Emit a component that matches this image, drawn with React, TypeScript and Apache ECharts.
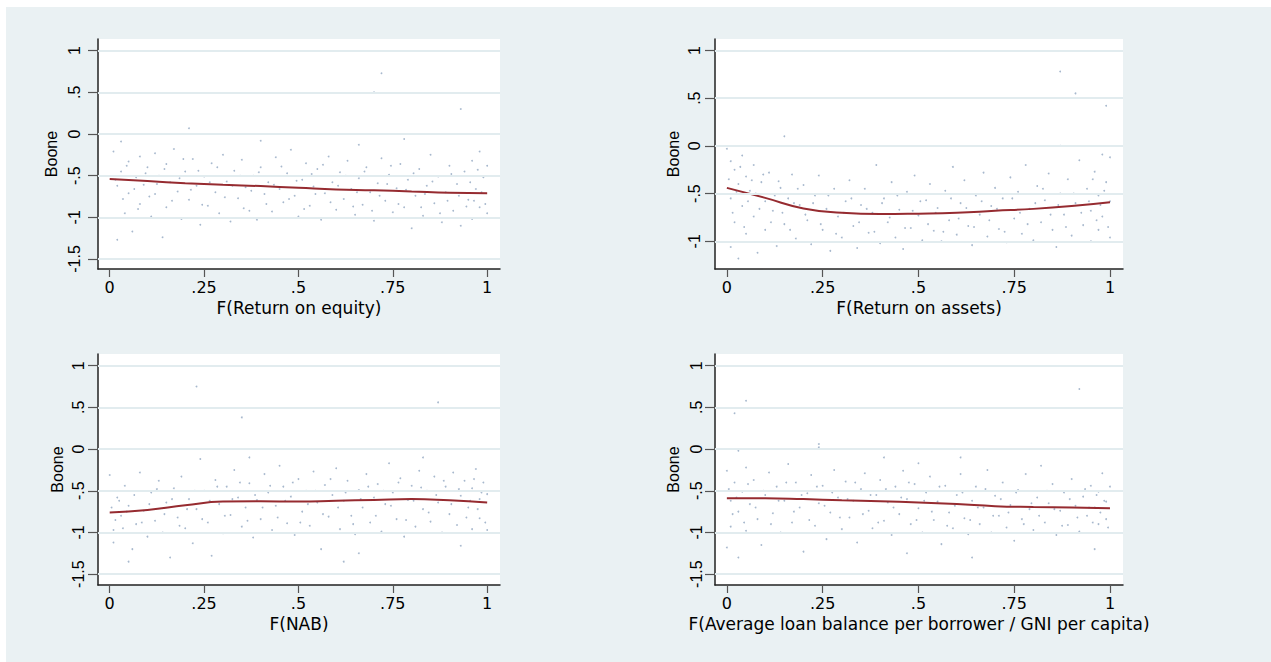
import React, { useEffect, useRef } from "react";
import * as echarts from "echarts";

// ---- data ----
const xTicks = [0, 0.25, 0.5, 0.75, 1];
const yTicksWide = [-1.5, -1, -0.5, 0, 0.5, 1];
const yTicksNarrow = [-1, -0.5, 0, 0.5, 1];

const fitX = [0, 0.1, 0.2, 0.3, 0.4, 0.5, 0.6, 0.7, 0.8, 0.9, 1];
const fitROE = [-0.54, -0.565, -0.59, -0.61, -0.625, -0.645, -0.665, -0.675, -0.69, -0.705, -0.71];
const fitROA = [-0.44, -0.545, -0.655, -0.7, -0.715, -0.71, -0.7, -0.68, -0.66, -0.63, -0.59];
const fitNAB = [-0.76, -0.73, -0.675, -0.63, -0.625, -0.63, -0.62, -0.61, -0.6, -0.615, -0.64];
const fitALB = [-0.59, -0.59, -0.6, -0.615, -0.625, -0.64, -0.66, -0.685, -0.695, -0.7, -0.71];

const ptsROE = `0.01,-0.21;0.02,-0.62;0.02,-1.27;0.03,-0.09;0.03,-0.45;0.04,-0.95;0.05,-0.33;0.05,-0.71;0.06,-1.17;0.07,-0.52;0.08,-0.27;0.08,-0.84;0.09,-0.61;0.10,-0.40;0.11,-0.99;0.12,-0.23;0.12,-0.72;0.13,-0.50;0.14,-1.24;0.15,-0.36;0.15,-0.88;0.16,-0.58;0.17,-0.18;0.18,-0.69;0.19,-1.02;0.20,-0.45;0.21,0.07;0.21,-0.79;0.22,-0.30;0.23,-0.62;0.24,-1.09;0.25,-0.51;0.26,-0.86;0.27,-0.35;0.28,-0.70;0.29,-0.95;0.30,-0.25;0.31,-0.57;0.32,-1.05;0.33,-0.44;0.34,-0.77;0.35,-0.31;0.36,-0.64;0.37,-0.92;0.38,-0.50;0.39,-1.03;0.40,-0.08;0.40,-0.40;0.41,-0.72;0.42,-0.58;0.43,-0.93;0.44,-0.28;0.45,-0.66;0.46,-0.82;0.47,-0.47;0.48,-0.19;0.49,-0.74;0.50,-0.99;0.51,-0.55;0.52,-0.35;0.53,-0.86;0.54,-0.63;0.55,-0.42;0.56,-1.03;0.57,-0.71;0.58,-0.27;0.59,-0.58;0.60,-0.91;0.61,-0.46;0.62,-0.78;0.63,-0.32;0.64,-0.66;0.65,-0.97;0.66,-0.13;0.66,-0.53;0.67,-0.85;0.68,-0.40;0.69,-0.70;0.70,0.50;0.70,-1.04;0.71,-0.59;0.72,0.73;0.72,-0.29;0.73,-0.80;0.74,-0.49;0.75,-0.94;0.76,-0.65;0.77,-0.36;0.78,-0.06;0.78,-0.88;0.79,-0.55;0.80,-1.13;0.81,-0.74;0.82,-0.42;0.83,-0.98;0.84,-0.62;0.85,-0.25;0.86,-0.83;0.87,-0.51;0.88,-1.06;0.89,-0.70;0.90,-0.38;0.91,-0.92;0.92,-0.60;0.93,0.30;0.93,-1.10;0.94,-0.45;0.95,-0.79;0.96,-0.32;0.96,-1.02;0.97,-0.66;0.98,-0.21;0.98,-0.88;0.99,-0.52;1.00,-0.95;1.00,-0.38`;
const ptsROEcore = `0.015,-0.55;0.035,-0.78;0.045,-0.38;0.065,-0.66;0.075,-0.90;0.095,-0.47;0.105,-0.75;0.125,-0.60;0.145,-0.42;0.165,-0.80;0.185,-0.53;0.195,-0.30;0.215,-0.67;0.235,-0.44;0.245,-0.85;0.265,-0.58;0.285,-0.40;0.305,-0.76;0.325,-0.62;0.345,-0.50;0.355,-0.89;0.375,-0.68;0.395,-0.46;0.415,-0.84;0.435,-0.61;0.455,-0.39;0.475,-0.78;0.495,-0.56;0.515,-0.90;0.535,-0.48;0.545,-0.72;0.565,-0.37;0.585,-0.82;0.605,-0.62;0.625,-0.50;0.645,-0.87;0.655,-0.70;0.675,-0.45;0.695,-0.92;0.715,-0.74;0.735,-0.60;0.745,-0.38;0.765,-0.84;0.785,-0.67;0.805,-0.47;0.825,-0.88;0.835,-0.72;0.855,-0.57;0.875,-0.95;0.895,-0.80;0.905,-0.48;0.925,-0.74;0.945,-0.87;0.955,-0.58;0.965,-0.80;0.975,-0.43;0.985,-0.70;0.995,-0.84`;

const ptsROA = `0.00,-0.03;0.01,-0.16;0.01,-0.55;0.01,-1.06;0.02,-0.25;0.02,-0.80;0.03,-0.40;0.03,-1.18;0.04,-0.10;0.04,-0.63;0.05,-0.32;0.05,-0.92;0.06,-0.47;0.07,-0.20;0.07,-0.74;0.08,-1.12;0.09,-0.38;0.10,-0.58;0.10,-0.88;0.11,-0.28;0.12,-0.68;0.13,-1.05;0.14,-0.44;0.15,0.10;0.15,-0.82;0.16,-0.55;0.17,-0.30;0.18,-0.97;0.19,-0.62;0.20,-0.41;0.21,-0.78;0.22,-1.03;0.23,-0.52;0.24,-0.31;0.25,-0.88;0.26,-0.66;0.27,-1.10;0.28,-0.45;0.29,-0.74;0.30,-0.96;0.31,-0.58;0.32,-0.36;0.33,-0.84;0.34,-1.07;0.35,-0.62;0.36,-0.45;0.37,-0.91;0.38,-0.70;0.39,-0.20;0.40,-1.02;0.41,-0.55;0.42,-0.80;0.43,-0.38;0.44,-0.96;0.45,-0.67;0.46,-1.08;0.47,-0.48;0.48,-0.86;0.49,-0.31;0.50,-0.73;0.51,-0.99;0.52,-0.57;0.53,-0.40;0.54,-0.89;0.55,-0.65;0.56,-1.00;0.57,-0.47;0.58,-0.78;0.59,-0.22;0.60,-0.93;0.61,-0.60;0.62,-0.36;0.63,-0.84;0.64,-1.04;0.65,-0.52;0.66,-0.72;0.67,-0.28;0.68,-0.95;0.69,-0.63;0.70,-0.44;0.71,-0.87;0.72,-0.55;0.73,-1.01;0.74,-0.33;0.75,-0.76;0.76,-0.48;0.77,-0.92;0.78,-0.20;0.79,-0.66;0.80,-0.99;0.81,-0.42;0.82,-0.80;0.83,-0.57;0.84,-0.29;0.85,-0.88;0.86,-1.06;0.87,0.78;0.87,0.00;0.87,-0.50;0.88,-0.72;0.89,-0.35;0.90,-0.94;0.91,0.55;0.91,-0.60;0.92,-0.15;0.93,-0.83;0.94,-0.45;0.95,-1.00;0.95,-0.68;0.96,-0.27;0.97,-0.88;0.97,-0.52;0.98,-0.09;0.98,-0.74;0.99,0.42;0.99,-0.38;1.00,-0.96;1.00,-0.58;1.00,-0.12`;
const ptsROAcore = `0.005,-0.35;0.015,-0.70;0.025,-0.48;0.035,-0.22;0.045,-0.85;0.055,-0.58;0.065,-0.36;0.075,-0.50;0.085,-0.66;0.095,-0.30;0.115,-0.80;0.125,-0.52;0.135,-0.37;0.145,-0.70;0.165,-0.88;0.175,-0.60;0.185,-0.45;0.205,-0.72;0.225,-0.60;0.245,-0.82;0.265,-0.52;0.285,-0.92;0.305,-0.70;0.325,-0.55;0.345,-0.80;0.365,-0.66;0.385,-0.90;0.405,-0.60;0.425,-0.75;0.445,-0.52;0.465,-0.86;0.485,-0.68;0.505,-0.58;0.525,-0.82;0.545,-0.70;0.565,-0.90;0.585,-0.55;0.605,-0.76;0.625,-0.65;0.645,-0.85;0.665,-0.58;0.685,-0.78;0.705,-0.66;0.725,-0.90;0.745,-0.55;0.765,-0.70;0.785,-0.82;0.805,-0.60;0.825,-0.45;0.845,-0.72;0.865,-0.62;0.885,-0.85;0.905,-0.50;0.925,-0.70;0.945,-0.58;0.955,-0.35;0.965,-0.78;0.975,-0.62;0.985,-0.47;0.995,-0.85`;

const ptsNAB = `0.00,-0.31;0.01,-0.97;0.01,-1.12;0.02,-0.58;0.03,-0.80;0.04,-0.44;0.05,-1.35;0.05,-0.68;0.06,-1.20;0.07,-0.90;0.08,-0.28;0.09,-0.74;0.10,-1.05;0.11,-0.52;0.12,-0.86;0.13,-0.38;0.14,-1.00;0.15,-0.64;0.16,-1.30;0.17,-0.47;0.18,-0.82;0.19,-0.33;0.20,-0.95;0.21,-0.60;0.22,-1.13;0.23,0.75;0.23,0.00;0.23,-0.72;0.24,-0.12;0.25,-0.50;0.26,-0.88;0.27,-1.28;0.28,-0.37;0.29,-0.66;0.30,-1.01;0.31,-0.45;0.32,-0.79;0.33,-0.25;0.34,-0.58;0.35,0.38;0.35,-0.93;0.36,-0.70;0.37,-0.10;0.37,-0.41;0.38,-1.06;0.39,-0.61;0.40,-0.84;0.41,-0.30;0.42,-0.52;0.43,-0.97;0.44,-0.68;0.45,-0.20;0.46,-0.45;0.47,-0.89;0.48,-0.57;0.49,-1.03;0.50,-0.36;0.51,-0.75;0.52,-0.50;0.53,-0.92;0.54,-0.27;0.55,-0.64;0.56,-1.20;0.57,-0.43;0.58,-0.81;0.59,-0.55;0.60,-0.23;0.61,-0.96;0.62,-1.35;0.62,-0.62;0.63,-0.38;0.64,-0.80;0.65,-1.02;0.66,-1.25;0.66,-0.49;0.67,-0.70;0.68,-0.30;0.69,-0.88;0.70,-0.58;0.71,-0.42;0.72,-0.99;0.73,-0.66;0.74,-0.17;0.75,-0.52;0.76,-0.84;0.77,-0.35;0.78,-1.05;0.79,-0.61;0.80,-0.44;0.81,-0.93;0.82,-0.26;0.83,-0.10;0.83,-0.72;0.84,-0.50;0.85,-0.87;0.86,-0.33;0.87,0.56;0.87,-0.64;0.88,-1.00;0.89,-0.45;0.90,-0.78;0.91,-0.28;0.92,-0.91;0.93,-1.16;0.93,-0.56;0.94,-0.38;0.95,-0.70;0.96,-0.96;0.96,-0.47;0.97,-0.24;0.98,-0.83;0.98,-0.60;0.99,-0.40;1.00,-0.97;1.00,-0.54`;
const ptsNABcore = `0.005,-0.70;0.015,-0.85;0.025,-0.62;0.035,-0.95;0.045,-0.75;0.065,-0.55;0.085,-0.88;0.105,-0.66;0.125,-0.48;0.145,-0.78;0.165,-0.60;0.185,-0.92;0.205,-0.72;0.225,-0.50;0.245,-0.84;0.265,-0.62;0.285,-0.45;0.305,-0.80;0.325,-0.60;0.345,-0.40;0.365,-0.86;0.385,-0.55;0.405,-0.70;0.425,-0.44;0.445,-0.82;0.465,-0.62;0.485,-0.40;0.505,-0.88;0.525,-0.66;0.545,-0.50;0.565,-0.78;0.585,-0.36;0.605,-0.70;0.625,-0.52;0.645,-0.90;0.665,-0.60;0.685,-0.45;0.705,-0.80;0.725,-0.50;0.745,-0.68;0.765,-0.40;0.785,-0.85;0.805,-0.62;0.825,-0.46;0.845,-0.76;0.865,-0.55;0.885,-0.38;0.905,-0.66;0.925,-0.48;0.945,-0.82;0.955,-0.62;0.965,-0.36;0.975,-0.72;0.985,-0.52;0.995,-0.88`;

const ptsALB = `0.00,-0.26;0.00,-1.18;0.01,-0.62;0.01,-0.93;0.02,0.43;0.02,-0.40;0.03,-0.02;0.03,-1.30;0.03,-0.75;0.04,-0.51;0.05,0.58;0.05,-0.22;0.05,-0.98;0.06,-0.66;0.07,-0.37;0.08,-0.84;0.09,-1.15;0.10,-0.55;0.11,-0.28;0.12,-0.77;0.13,-0.45;0.14,-1.00;0.15,-0.62;0.16,-0.18;0.17,-0.88;0.18,-0.40;0.19,-0.70;0.20,-1.23;0.21,-0.53;0.22,-0.31;0.23,-0.92;0.24,0.06;0.24,0.02;0.24,-0.65;0.25,-0.44;0.26,-1.08;0.27,-0.76;0.28,-0.25;0.29,-0.58;0.30,-0.96;0.31,-0.39;0.32,-0.82;0.33,-0.62;0.34,-1.12;0.35,-0.48;0.36,-0.29;0.37,-0.74;0.38,-0.95;0.39,-0.55;0.40,-0.37;0.41,-0.10;0.41,-0.86;0.42,-0.64;0.43,-1.03;0.44,-0.45;0.45,-0.78;0.46,-0.26;0.47,-1.25;0.47,-0.60;0.48,-0.90;0.49,-0.42;0.50,-0.17;0.50,-0.71;0.51,-1.00;0.52,-0.52;0.53,-0.33;0.54,-0.85;0.55,-0.63;0.56,-1.14;0.57,-0.44;0.58,-0.76;0.59,-0.95;0.60,-0.55;0.61,-0.10;0.61,-0.30;0.62,-0.83;0.63,-1.02;0.64,-1.30;0.64,-0.62;0.65,-0.45;0.66,-0.90;0.67,-0.70;0.68,-0.25;0.69,-1.00;0.70,-0.56;0.71,-0.80;0.72,-0.40;0.73,-0.94;0.74,-0.67;0.75,-1.10;0.76,-0.49;0.77,-0.84;0.78,-0.30;0.79,-0.72;0.80,-0.97;0.81,-0.58;0.82,-0.20;0.83,-0.88;0.84,-0.65;0.85,-0.42;0.86,-1.03;0.87,-0.74;0.88,-0.52;0.89,-0.91;0.90,-0.36;0.91,-0.68;0.92,0.72;0.92,-0.99;0.93,-0.57;0.94,-0.80;0.95,-0.44;0.96,-1.20;0.96,-0.70;0.97,-0.51;0.97,-0.90;0.98,-0.29;0.99,-0.63;0.99,-0.84;1.00,-0.45`;
const ptsALBcore = `0.005,-0.48;0.015,-0.78;0.025,-0.58;0.045,-0.88;0.055,-0.42;0.075,-0.70;0.095,-0.50;0.115,-0.90;0.135,-0.62;0.155,-0.40;0.175,-0.75;0.195,-0.55;0.215,-0.85;0.235,-0.45;0.255,-0.68;0.275,-0.52;0.295,-0.82;0.315,-0.60;0.335,-0.40;0.355,-0.78;0.375,-0.55;0.395,-0.88;0.415,-0.48;0.435,-0.70;0.455,-0.58;0.475,-0.40;0.495,-0.85;0.515,-0.62;0.535,-0.75;0.555,-0.45;0.575,-0.92;0.595,-0.68;0.615,-0.52;0.635,-0.85;0.655,-0.70;0.675,-0.48;0.695,-0.80;0.715,-0.60;0.735,-0.76;0.755,-0.52;0.775,-0.90;0.795,-0.65;0.815,-0.80;0.835,-0.50;0.855,-0.72;0.875,-0.92;0.895,-0.60;0.915,-0.82;0.935,-0.48;0.945,-0.70;0.955,-0.88;0.965,-0.55;0.975,-0.76;0.985,-0.62;0.995,-0.94`;

const yName = "Boone";
const xNames = [
  "F(Return on equity)",
  "F(Return on assets)",
  "F(NAB)",
  "F(Average loan balance per borrower / GNI per capita)",
];

// ---- helpers ----
const parsePts = (...strs: string[]) =>
  strs
    .join(";")
    .split(";")
    .filter((p) => p.trim().length > 0)
    .map((p) => p.split(",").map(Number));

const stataFmt = (v: number) => {
  let s = String(v);
  s = s.replace(/^0\./, ".").replace(/^-0\./, "-.");
  return s;
};

const panels = [
  { name: xNames[0], pts: [ptsROE, ptsROEcore], fit: fitROE, yTicks: yTicksWide, ymin: -1.62, ymax: 1.14, left: 98, top: 39, width: 402, height: 230, labelMargin: 16, nameGap: 39 },
  { name: xNames[1], pts: [ptsROA, ptsROAcore], fit: fitROA, yTicks: yTicksNarrow, ymin: -1.29, ymax: 1.12, left: 715, top: 39, width: 408, height: 230, labelMargin: 13, nameGap: 34 },
  { name: xNames[2], pts: [ptsNAB, ptsNABcore], fit: fitNAB, yTicks: yTicksWide, ymin: -1.63, ymax: 1.14, left: 98, top: 354, width: 402, height: 231, labelMargin: 12, nameGap: 33 },
  { name: xNames[3], pts: [ptsALB, ptsALBcore], fit: fitALB, yTicks: yTicksWide, ymin: -1.63, ymax: 1.14, left: 715, top: 354, width: 408, height: 231, labelMargin: 11, nameGap: 34 },
];

export default function App() {
  const ref = useRef<HTMLDivElement>(null);

  useEffect(() => {
    if (!ref.current) return;
    const chart = echarts.init(ref.current, undefined, { renderer: "svg" });

    const grid: any[] = [];
    const xAxis: any[] = [];
    const yAxis: any[] = [];
    const series: any[] = [];

    panels.forEach((p, i) => {
      grid.push({
        left: p.left,
        top: p.top,
        width: p.width,
        height: p.height,
        show: true,
        backgroundColor: "#ffffff",
        borderWidth: 0,
        containLabel: false,
        outerBoundsMode: "none",
      });
      xAxis.push({
        type: "value",
        gridIndex: i,
        min: -0.031,
        max: 1.034,
        name: p.name,
        nameLocation: "middle",
        nameGap: 30,
        nameTextStyle: { fontFamily: "DejaVu Sans", fontSize: 17, color: "#000" },
        axisLine: { show: true, onZero: false, lineStyle: { color: "#222", width: 1.5 } },
        axisTick: { show: true, length: 8, customValues: xTicks, lineStyle: { color: "#555", width: 1.2 } },
        axisLabel: {
          show: true,
          customValues: xTicks,
          margin: 10,
          fontFamily: "DejaVu Sans",
          fontSize: 16,
          color: "#000",
          formatter: (v: number) => stataFmt(v),
        },
        splitLine: { show: false },
      });
      yAxis.push({
        type: "value",
        gridIndex: i,
        min: p.ymin,
        max: p.ymax,
        name: yName,
        nameLocation: "middle",
        nameRotate: 90,
        nameGap: p.nameGap,
        nameTextStyle: { fontFamily: "Liberation Sans", fontSize: 16, color: "#000" },
        axisLine: { show: true, onZero: false, lineStyle: { color: "#222", width: 1.5 } },
        axisTick: { show: true, length: 10, customValues: p.yTicks, lineStyle: { color: "#555", width: 1.2 } },
        axisLabel: {
          show: true,
          customValues: p.yTicks,
          rotate: 90,
          margin: p.labelMargin,
          fontFamily: "Liberation Sans",
          fontSize: 16,
          color: "#000",
          formatter: (v: number) => stataFmt(v),
        },
        splitLine: { show: false },
      });
      // horizontal gridlines at the y ticks
      series.push({
        type: "line",
        xAxisIndex: i,
        yAxisIndex: i,
        data: [],
        z: 1,
        silent: true,
        markLine: {
          silent: true,
          symbol: ["none", "none"],
          label: { show: false },
          lineStyle: { color: "#E2ECEF", width: 2, type: "solid" },
          data: p.yTicks.map((v) => ({ yAxis: v })),
        },
      });
      series.push({
        type: "scatter",
        xAxisIndex: i,
        yAxisIndex: i,
        data: parsePts(...p.pts),
        symbol: "circle",
        symbolSize: 1.8,
        itemStyle: { color: "#9DB0C8", opacity: 0.9 },
        z: 2,
        silent: true,
      });
      series.push({
        type: "line",
        xAxisIndex: i,
        yAxisIndex: i,
        data: fitX.map((x, k) => [x, p.fit[k]]),
        smooth: 0.5,
        showSymbol: false,
        lineStyle: { color: "#962B30", width: 2 },
        z: 3,
        silent: true,
      });
    });

    chart.setOption({
      animation: false,
      grid,
      xAxis,
      yAxis,
      series,
    });

    return () => chart.dispose();
  }, []);

  return (
    <div style={{ position: "fixed", left: 0, top: 0, width: 1271, height: 662, background: "#ffffff" }}>
      <div style={{ position: "absolute", left: 6, top: 7, right: 0, bottom: 0, background: "#EAF1F3" }} />
      <div ref={ref} style={{ position: "absolute", left: 0, top: 0, width: 1271, height: 662 }} />
    </div>
  );
}
